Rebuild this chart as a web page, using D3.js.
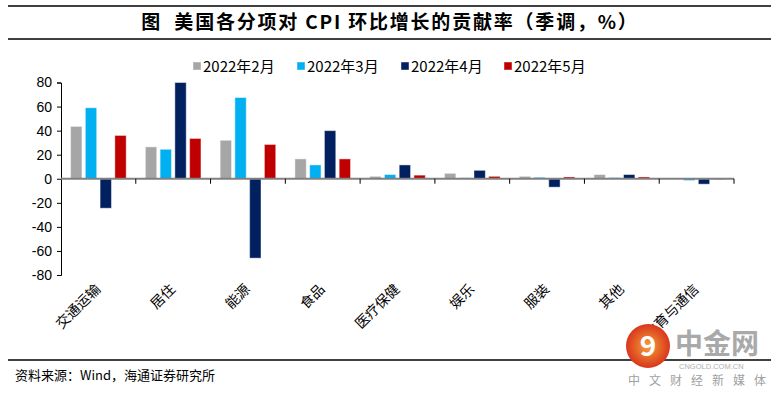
<!DOCTYPE html>
<html>
<head>
<meta charset="utf-8">
<script src="https://cdn.jsdelivr.net/npm/d3@7"></script>
<style>
  body { margin: 0; background: #fff; }
  text { font-family: "Liberation Sans", Arial, sans-serif; }
  .cjk { font-family: "Noto Sans CJK SC", sans-serif; }
</style>
</head>
<body>
<div id="chart"></div>
<script>
// categories and series (contribution, %)
var categories = ["交通运输", "居住", "能源", "食品", "医疗保健", "娱乐", "服装", "其他", "教育与通信"];
var seriesNames = ["2022年2月", "2022年3月", "2022年4月", "2022年5月"];
var feb = [43.5, 26.5, 32, 16.5, 2, 4.5, 2, 3.5, 0.3];
var mar = [59, 24.5, 67.5, 11.5, 3.5, 0.8, 1.2, 1, -1.5];
var apr = [-24.5, 80, -66, 40, 11.5, 7, -7, 3.5, -4.5];
var may = [36, 33.5, 28.5, 16.5, 3, 2, 1.5, 1.5, -0.5];
var yTicks = [-80, -60, -40, -20, 0, 20, 40, 60, 80];
var colors = ["#A6A6A6", "#00B0F0", "#002060", "#C00000"];

var series = [feb, mar, apr, may];
var W = 779, H = 395;

var svg = d3.select("#chart").append("svg")
  .attr("width", W).attr("height", H);

// title with rules
svg.append("line").attr("x1", 8).attr("x2", 771).attr("y1", 6).attr("y2", 6)
  .attr("stroke", "#000").attr("stroke-width", 1.5);
svg.append("line").attr("x1", 8).attr("x2", 771).attr("y1", 39).attr("y2", 39)
  .attr("stroke", "#000").attr("stroke-width", 1.5);
svg.append("text").attr("class", "cjk")
  .attr("x", 390).attr("y", 29)
  .attr("text-anchor", "middle")
  .style("font-size", "19px").style("font-weight", "bold")
  .style("letter-spacing", "1.8px")
  .text("图\u00a0\u00a0美国各分项对 CPI 环比增长的贡献率（季调，%）");

// scales
var x = d3.scaleBand().domain(categories).range([61, 734]).paddingInner(0).paddingOuter(0);
var xs = d3.scaleBand().domain(d3.range(4)).range([0, x.bandwidth()]).paddingInner(0.23).paddingOuter(0.65);
var y = d3.scaleLinear().domain([-80, 80]).range([275, 82.5]);

// y axis
var yAxis = svg.append("g").attr("transform", "translate(61,0)")
  .call(d3.axisLeft(y).tickValues(yTicks).tickSize(4).tickPadding(5)
    .tickFormat(function (d) { return String(d); }));
yAxis.select(".domain").attr("stroke", "#000");
yAxis.selectAll(".tick line").attr("stroke", "#000");
yAxis.selectAll("text").style("font-size", "14px").attr("fill", "#000")
  .style("font-family", "'Liberation Sans', Arial, sans-serif");

// bars
series.forEach(function (vals, si) {
  svg.append("g").selectAll("rect")
    .data(vals)
    .enter().append("rect")
    .attr("x", function (d, i) { return x(categories[i]) + xs(si); })
    .attr("width", xs.bandwidth())
    .attr("y", function (d) { return y(Math.max(0, d)); })
    .attr("height", function (d) { return Math.abs(y(d) - y(0)); })
    .attr("fill", colors[si])
    .attr("stroke", "rgba(255,255,255,0.45)")
    .attr("stroke-width", 1);
});

// x axis at zero
var xAxisG = svg.append("g");
xAxisG.append("line").attr("x1", 61).attr("x2", 734).attr("y1", y(0)).attr("y2", y(0))
  .attr("stroke", "#808080").attr("stroke-width", 2);
var bounds = categories.map(function (c) { return x(c) + x.bandwidth(); });
xAxisG.selectAll(".xt").data(bounds).enter().append("line")
  .attr("x1", function (d) { return d; }).attr("x2", function (d) { return d; })
  .attr("y1", y(0)).attr("y2", y(0) + 5)
  .attr("stroke", "#000");

// category labels, rotated
svg.append("g").selectAll("text").data(categories).enter().append("text")
  .attr("class", "cjk")
  .attr("transform", function (d) {
    return "translate(" + (x(d) + x.bandwidth() / 2 + 3) + ",290) rotate(-45)";
  })
  .attr("text-anchor", "end")
  .style("font-size", "14px")
  .text(function (d) { return d; });

// legend
var legendX = [193, 297, 401, 504];
var lg = svg.append("g");
seriesNames.forEach(function (name, i) {
  lg.append("rect").attr("x", legendX[i]).attr("y", 62).attr("width", 8).attr("height", 8)
    .attr("fill", colors[i]).attr("stroke", "rgba(255,255,255,0.45)");
  lg.append("text").attr("class", "cjk").attr("x", legendX[i] + 10).attr("y", 71.5)
    .style("font-size", "15px").text(name);
});

// footer
svg.append("line").attr("x1", 8).attr("x2", 771).attr("y1", 360).attr("y2", 360)
  .attr("stroke", "#000").attr("stroke-width", 1.5);
svg.append("text").attr("class", "cjk").attr("x", 15).attr("y", 380)
  .style("font-size", "13px")
  .text("资料来源：Wind，海通证券研究所");

// watermark
var wm = svg.append("g");
var grad = svg.append("defs").append("radialGradient").attr("id", "wmg");
grad.append("stop").attr("offset", "0%").attr("stop-color", "#f6a13a");
grad.append("stop").attr("offset", "100%").attr("stop-color", "#d9361c");
wm.append("circle").attr("cx", 648).attr("cy", 346).attr("r", 22).attr("fill", "url(#wmg)");
wm.append("text").attr("class", "cjk").attr("x", 648).attr("y", 356).attr("text-anchor", "middle")
  .style("font-size", "28px").style("font-weight", "bold").attr("fill", "#fff").text("9");
wm.append("text").attr("class", "cjk").attr("x", 675).attr("y", 354)
  .style("font-size", "28px").style("font-weight", "bold").attr("fill", "#a9a9a9").text("中金网");
wm.append("text").attr("x", 679).attr("y", 369)
  .style("font-size", "7.5px").attr("fill", "#b0b0b0").text("CNGOLD.COM.CN");
wm.append("text").attr("class", "cjk").attr("x", 628).attr("y", 385)
  .style("font-size", "12px").style("letter-spacing", "9px").attr("fill", "#a0a0a0").text("中文财经新媒体");
</script>
</body>
</html>
